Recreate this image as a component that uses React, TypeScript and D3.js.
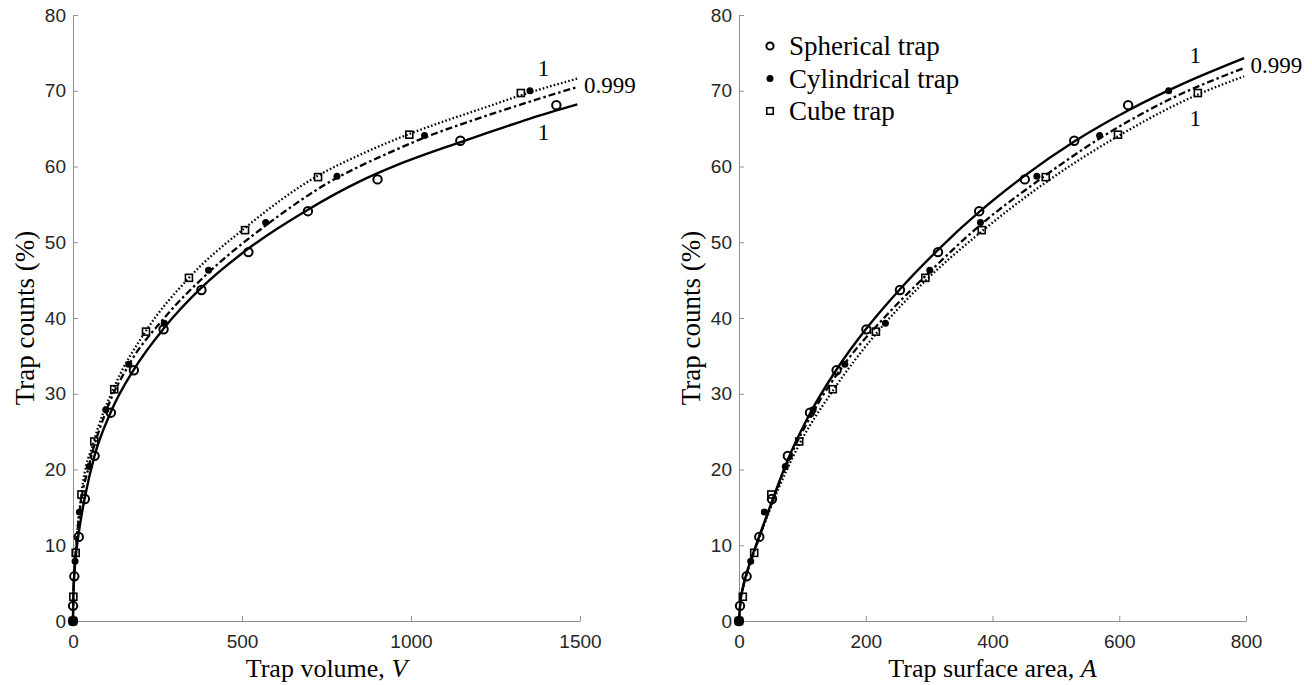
import React, { useEffect, useRef } from "react";
import * as d3 from "d3";

// measured trap counts (%), shared by both panels
const sphCounts = [0, 2.0, 5.9, 11.1, 16.1, 21.8, 27.5, 33.1, 38.5, 43.7, 48.7, 54.1, 58.3, 63.4, 68.1];
const sphVolume = [0, 0.2, 3.9, 17, 35, 64, 112, 180, 268, 380, 519, 695, 901, 1146, 1430];
const sphArea = [0, 1.6, 12, 32, 52, 77, 112, 154, 201, 254, 314, 379, 451, 529, 614];

const cylCounts = [0, 7.9, 14.4, 20.4, 27.9, 33.9, 39.3, 46.3, 52.6, 58.7, 64.1, 70.0];
const cylVolume = [0, 6, 19, 48, 97, 165, 270, 401, 570, 781, 1040, 1352];
const cylArea = [0, 18.5, 40, 73, 117, 167, 231, 301, 381, 470, 569, 678];

const cubeCounts = [0, 3.2, 9.0, 16.7, 23.7, 30.6, 38.2, 45.3, 51.6, 58.6, 64.2, 69.7];
const cubeVolume = [0, 1, 8, 25, 63, 122, 216, 343, 509, 725, 995, 1325];
const cubeArea = [0, 6, 24, 51, 95, 148, 216, 294, 383, 484, 598, 724];

// fitted curves
const fitSphV = [0, 0.5, 2, 4, 8, 16, 35, 63, 112, 180, 268, 380, 520, 695, 847, 965, 1145, 1250, 1350, 1492];
const fitSphVy = [0, 2.2, 4.5, 6.2, 8.4, 11.3, 16.3, 21.7, 27.6, 33.2, 38.6, 44.0, 49.2, 54.3, 58.0, 60.3, 63.2, 64.8, 66.3, 68.2];
const fitCylV = [0, 0.5, 2, 6, 19, 48, 97, 165, 270, 401, 570, 781, 847, 960, 1039, 1150, 1250, 1354, 1492];
const fitCylVy = [0, 2.4, 4.8, 7.9, 14.2, 20.6, 27.6, 33.8, 40.0, 46.0, 52.2, 58.5, 60.0, 62.3, 63.8, 65.6, 67.1, 68.6, 70.5];
const fitCubeV = [0, 0.5, 1, 3, 8, 25, 63, 122, 216, 343, 509, 725, 847, 995, 1100, 1200, 1325, 1492];
const fitCubeVy = [0, 2.0, 3.3, 5.8, 9.3, 16.8, 23.9, 30.9, 38.3, 45.3, 51.9, 58.8, 61.5, 64.3, 66.0, 67.5, 69.4, 71.6];

const fitSphA = [0, 2, 6, 12, 20, 32, 52, 77, 112, 154, 201, 254, 314, 379, 451, 529, 614, 700, 797];
const fitSphAy = [0, 2.4, 4.4, 6.3, 8.4, 11.2, 15.8, 21.3, 27.4, 33.2, 38.6, 43.8, 49.0, 54.0, 58.8, 63.3, 67.4, 70.9, 74.3];
const fitCylA = [0, 2, 6, 12, 20, 32, 52, 73, 117, 167, 231, 301, 381, 470, 569, 678, 797];
const fitCylAy = [0, 2.3, 4.3, 6.2, 8.3, 11.1, 15.6, 20.2, 27.6, 34.0, 40.2, 46.1, 52.3, 58.0, 63.7, 68.8, 73.0];
const fitCubeA = [0, 2, 6, 12, 20, 32, 52, 95, 148, 216, 294, 384, 484, 598, 724, 797];
const fitCubeAy = [0, 2.3, 4.2, 6.1, 8.2, 11.0, 15.4, 23.3, 30.4, 37.9, 44.9, 51.5, 57.9, 64.0, 69.5, 71.9];

const yTicks = [0, 10, 20, 30, 40, 50, 60, 70, 80];
const volumeTicks = [0, 500, 1000, 1500];
const areaTicks = [0, 200, 400, 600, 800];
const legendLabels = ["Spherical trap", "Cylindrical trap", "Cube trap"];

const W = 1312;
const H = 685;
const SERIF = "'Liberation Serif', 'Times New Roman', Times, serif";
const SANS = "'Liberation Sans', Arial, sans-serif";
const AXIS = "#8f8f8f";
const TICK_TXT = "#262626";

const zip = (xs: number[], ys: number[]) => xs.map((x, i) => [x, ys[i]] as [number, number]);

function drawCircle(g: any, x: number, y: number, r = 4.2) {
    g.append("circle").attr("cx", x).attr("cy", y).attr("r", r)
        .attr("fill", "none").attr("stroke", "#000").attr("stroke-width", 2);
}
function drawDot(g: any, x: number, y: number, r = 3.5) {
    g.append("circle").attr("cx", x).attr("cy", y).attr("r", r).attr("fill", "#000");
}
function drawSquare(g: any, x: number, y: number, s = 7) {
    g.append("rect").attr("x", x - s / 2).attr("y", y - s / 2).attr("width", s).attr("height", s)
        .attr("fill", "none").attr("stroke", "#000").attr("stroke-width", 1.6);
}

function drawPanel(svg: any, p: any) {
    const x = d3.scaleLinear().domain([0, p.xMax]).range([p.left, p.right]);
    const y = d3.scaleLinear().domain([0, 80]).range([621, 15]);
    const g = svg.append("g");

    const xAxis = g.append("g")
        .attr("transform", `translate(0,${y(0)})`)
        .call(d3.axisBottom(x).tickValues(p.ticks).tickSizeInner(-5).tickSizeOuter(0).tickPadding(13.5).tickFormat(d3.format("d")));
    const yAxis = g.append("g")
        .attr("transform", `translate(${x(0)},0)`)
        .call(d3.axisLeft(y).tickValues(yTicks).tickSizeInner(-5).tickSizeOuter(0).tickPadding(7).tickFormat(d3.format("d")));
    [xAxis, yAxis].forEach((a) => {
        a.select(".domain").attr("stroke", AXIS).attr("stroke-width", 1);
        a.selectAll(".tick line").attr("stroke", AXIS);
        a.selectAll(".tick text").attr("fill", TICK_TXT).style("font-family", SANS).style("font-size", "19px");
    });

    // axis titles
    const xt = g.append("text")
        .attr("x", (p.left + p.right) / 2).attr("y", 677)
        .attr("text-anchor", "middle")
        .style("font-family", SERIF).style("font-size", "26px");
    xt.append("tspan").text(p.xLabel);
    xt.append("tspan").style("font-style", "italic").text(p.xVar);

    g.append("text")
        .attr("transform", `translate(${p.left - 39},318) rotate(-90)`)
        .attr("text-anchor", "middle")
        .style("font-family", SERIF).style("font-size", "27px")
        .text("Trap counts (%)");

    // fitted curves
    const line = d3.line<[number, number]>()
        .x((d) => x(d[0]))
        .y((d) => y(d[1]))
        .curve(d3.curveMonotoneX);

    g.append("path").datum(zip(p.fitCube[0], p.fitCube[1]))
        .attr("fill", "none").attr("stroke", "#000").attr("stroke-width", 2.3)
        .attr("stroke-dasharray", "1.6,2.2").attr("d", line);
    g.append("path").datum(zip(p.fitCyl[0], p.fitCyl[1]))
        .attr("fill", "none").attr("stroke", "#000").attr("stroke-width", 2.3)
        .attr("stroke-dasharray", "7,3,2.5,3").attr("d", line);
    g.append("path").datum(zip(p.fitSph[0], p.fitSph[1]))
        .attr("fill", "none").attr("stroke", "#000").attr("stroke-width", 2.4)
        .attr("d", line);

    // data markers
    p.cubeX.forEach((v: number, i: number) => drawSquare(g, x(v), y(cubeCounts[i])));
    p.sphX.forEach((v: number, i: number) => drawCircle(g, x(v), y(sphCounts[i])));
    p.cylX.forEach((v: number, i: number) => drawDot(g, x(v), y(cylCounts[i]), i === 0 ? 4.4 : 3.5));

    // fit annotations
    p.notes.forEach((n: any) => {
        g.append("text")
            .attr("x", x(n.x)).attr("y", y(n.y))
            .attr("text-anchor", n.anchor)
            .style("font-family", SERIF).style("font-size", "23px")
            .text(n.t);
    });
    return { x, y };
}

const App = () => {
    const ref = useRef<SVGSVGElement>(null);

    useEffect(() => {
        const svg = d3.select(ref.current);
        svg.selectAll("*").remove();

        drawPanel(svg, {
            left: 73, right: 580, xMax: 1500, ticks: volumeTicks,
            xLabel: "Trap volume, ", xVar: "V",
            sphX: sphVolume, cylX: cylVolume, cubeX: cubeVolume,
            fitSph: [fitSphV, fitSphVy], fitCyl: [fitCylV, fitCylVy], fitCube: [fitCubeV, fitCubeVy],
            notes: [
                { t: "1", x: 1392, y: 72.0, anchor: "middle" },
                { t: "0.999", x: 1512, y: 69.7, anchor: "start" },
                { t: "1", x: 1392, y: 63.5, anchor: "middle" },
            ],
        });

        const right = drawPanel(svg, {
            left: 739, right: 1246, xMax: 800, ticks: areaTicks,
            xLabel: "Trap surface area, ", xVar: "A",
            sphX: sphArea, cylX: cylArea, cubeX: cubeArea,
            fitSph: [fitSphA, fitSphAy], fitCyl: [fitCylA, fitCylAy], fitCube: [fitCubeA, fitCubeAy],
            notes: [
                { t: "1", x: 720, y: 73.6, anchor: "middle" },
                { t: "0.999", x: 807, y: 72.3, anchor: "start" },
                { t: "1", x: 720, y: 65.4, anchor: "middle" },
            ],
        });

        // legend
        const lg = svg.append("g");
        const lx = right.x(0) + 31;
        legendLabels.forEach((label, i) => {
            const ly = 46 + i * 32.5;
            if (i === 0) drawCircle(lg, lx, ly, 3.6);
            if (i === 1) drawDot(lg, lx, ly, 3.5);
            if (i === 2) drawSquare(lg, lx, ly, 6.5);
            lg.append("text")
                .attr("x", lx + 19).attr("y", ly + 9)
                .style("font-family", SERIF).style("font-size", "27px")
                .text(label);
        });
    }, []);

    return (
        <svg
            ref={ref}
            width={W}
            height={H}
            style={{ position: "absolute", left: 0, top: 0, background: "#fff" }}
        />
    );
};

export default App;
